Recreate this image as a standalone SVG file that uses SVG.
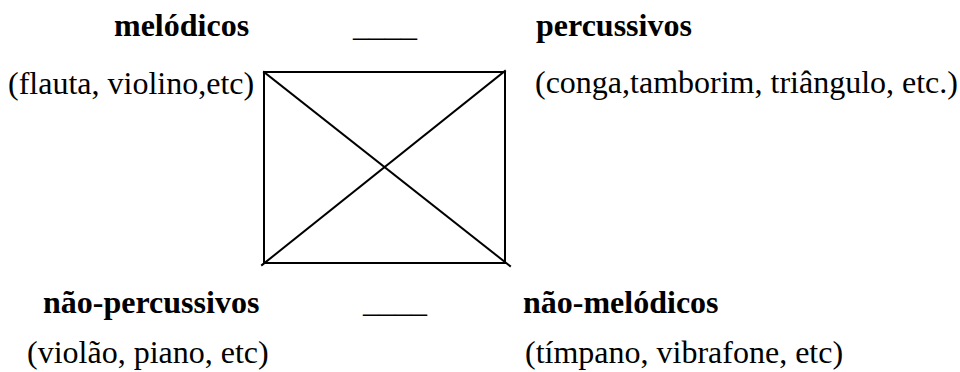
<svg xmlns="http://www.w3.org/2000/svg" width="960" height="372" viewBox="0 0 960 372">
<style>
.t{font-family:"Liberation Serif","Times New Roman",serif;font-size:32px;fill:#000}
.b{font-weight:bold}
.ln{stroke:#000;stroke-width:2;fill:none;stroke-linecap:square}
</style>
<rect width="960" height="372" fill="#fff"/>
<g id="node-melodicos">
<text class="t b" x="114" y="36">melódicos</text>
<text class="t" x="8" y="94">(flauta, violino,etc)</text>
</g>
<g id="node-percussivos">
<text class="t b" x="536" y="36">percussivos</text>
<text class="t" x="535" y="93">(conga,tamborim, triângulo, etc.)</text>
</g>
<g id="node-nao-percussivos">
<text class="t b" x="43" y="313">não-percussivos</text>
<text class="t" x="27" y="363">(violão, piano, etc)</text>
</g>
<g id="node-nao-melodicos">
<text class="t b" x="523" y="313">não-melódicos</text>
<text class="t" x="525" y="363">(tímpano, vibrafone, etc)</text>
</g>
<g id="blanks">
<text class="t" x="353" y="36">____</text>
<text class="t" x="363" y="312">____</text>
</g>
<g id="connectors">
<rect class="ln" x="264" y="72" width="241" height="191"/>
<line class="ln" x1="264" y1="72" x2="510" y2="266"/>
<line class="ln" x1="505" y1="71" x2="262" y2="265"/>
</g>
</svg>
